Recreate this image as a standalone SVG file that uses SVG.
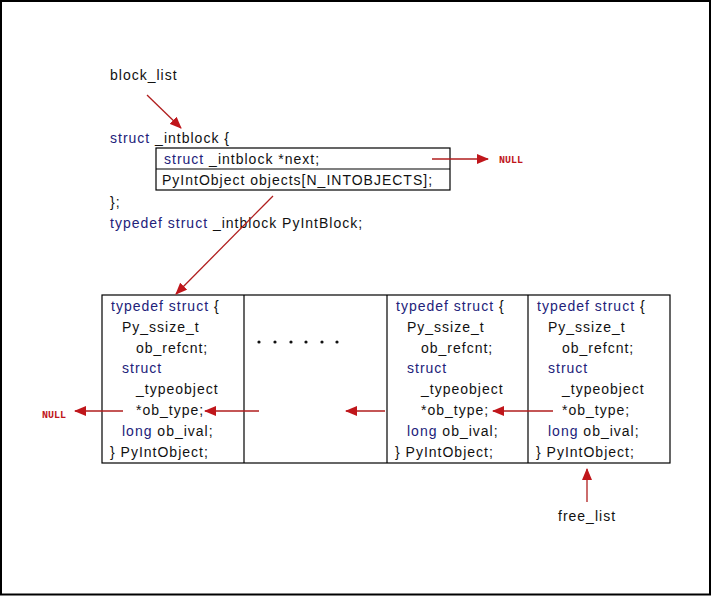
<svg xmlns="http://www.w3.org/2000/svg" width="711" height="596" viewBox="0 0 711 596">
  <style>
    .t { font-family: "Liberation Sans", "DejaVu Sans", sans-serif; font-size: 14px; letter-spacing: 1px; fill: #111; }
    .k { fill: #22227a; }
    .null { font-family: "Liberation Mono", monospace; font-size: 10px; font-weight: bold; fill: #c0161b; }
    .box { fill: none; stroke: #000; stroke-width: 1.2; }
    .arr { stroke: #b01e1e; stroke-width: 1.3; fill: none; marker-end: url(#head); }
  </style>
  <defs>
    <marker id="head" markerWidth="12" markerHeight="10" refX="11" refY="5" orient="auto" markerUnits="userSpaceOnUse">
      <path d="M0,0 L12,5 L0,10 Z" fill="#c0161b"/>
    </marker>
    <g id="pyint">
      <text class="t" x="9" y="16"><tspan class="k">typedef struct</tspan> {</text>
      <text class="t" x="20" y="37">Py_ssize_t</text>
      <text class="t" x="34" y="58">ob_refcnt;</text>
      <text class="t k" x="20" y="78">struct</text>
      <text class="t" x="34" y="99">_typeobject</text>
      <text class="t" x="34" y="120">*ob_type;</text>
      <text class="t" x="20" y="141"><tspan class="k">long</tspan> ob_ival;</text>
      <text class="t" x="8" y="162">} PyIntObject;</text>
    </g>
  </defs>

  <!-- frame -->
  <rect x="0" y="0" width="711" height="596" fill="#fff"/>
  <rect x="1" y="1" width="709" height="593.5" fill="none" stroke="#000" stroke-width="2"/>

  <!-- PyIntBlock declaration -->
  <g id="block_list">
    <text class="t" x="110" y="80">block_list</text>
  </g>
  <g id="intblock">
    <text class="t" x="110" y="143"><tspan class="k">struct</tspan> _intblock {</text>
    <rect class="box" x="156" y="148" width="294" height="42"/>
    <line class="box" x1="156" y1="169" x2="450" y2="169"/>
    <text class="t" x="164" y="164"><tspan class="k">struct</tspan> _intblock *next;</text>
    <text class="t" x="162" y="185">PyIntObject objects[N_INTOBJECTS];</text>
    <text class="t" x="110" y="207">};</text>
    <text class="t" x="110" y="228"><tspan class="k">typedef struct</tspan> _intblock PyIntBlock;</text>
  </g>
  <g id="null_top">
    <text class="null" x="499" y="163">NULL</text>
  </g>

  <!-- objects array -->
  <g id="objects">
    <rect class="box" x="102" y="295" width="568" height="168"/>
    <line class="box" x1="244" y1="295" x2="244" y2="463"/>
    <line class="box" x1="387" y1="295" x2="387" y2="463"/>
    <line class="box" x1="528" y1="295" x2="528" y2="463"/>
  </g>
  <g id="obj_first"><use href="#pyint" x="102" y="295"/></g>
  <g id="obj_gap">
    <g fill="#111">
      <circle cx="259" cy="342" r="1.6"/>
      <circle cx="275" cy="342" r="1.6"/>
      <circle cx="291" cy="342" r="1.6"/>
      <circle cx="306" cy="342" r="1.6"/>
      <circle cx="322" cy="342" r="1.6"/>
      <circle cx="337" cy="342" r="1.6"/>
    </g>
  </g>
  <g id="obj_prev"><use href="#pyint" x="387" y="295"/></g>
  <g id="obj_last"><use href="#pyint" x="528" y="295"/></g>

  <g id="null_left">
    <text class="null" x="42" y="418">NULL</text>
  </g>
  <g id="free_list">
    <text class="t" x="558" y="521">free_list</text>
  </g>

  <!-- pointers -->
  <g id="connectors">
    <line class="arr" x1="147" y1="95" x2="181" y2="128"/>
    <line class="arr" x1="432" y1="159" x2="488" y2="159"/>
    <line class="arr" x1="273" y1="196" x2="176" y2="294"/>
    <line class="arr" x1="123" y1="411" x2="75" y2="411"/>
    <line class="arr" x1="259" y1="411" x2="205" y2="411"/>
    <line class="arr" x1="385" y1="411" x2="346" y2="411"/>
    <line class="arr" x1="553" y1="411" x2="493" y2="411"/>
    <line class="arr" x1="587" y1="502" x2="587" y2="469"/>
  </g>
</svg>
